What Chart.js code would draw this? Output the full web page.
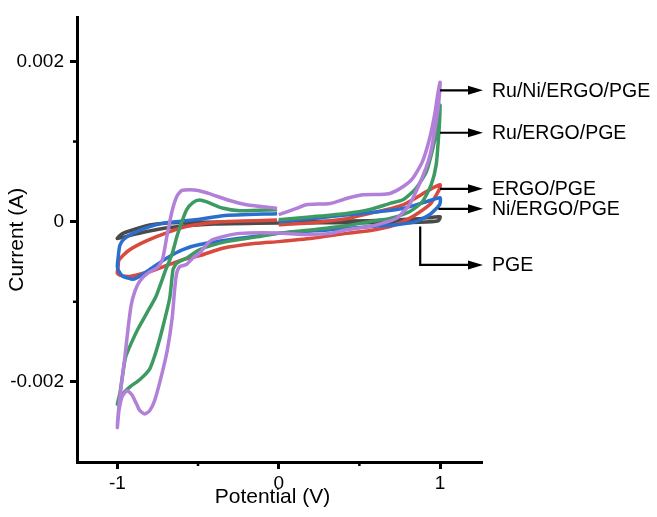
<!DOCTYPE html>
<html><head><meta charset="utf-8">
<script src="https://cdn.jsdelivr.net/npm/chart.js@4.4.1/dist/chart.umd.min.js"></script>
<style>html,body{margin:0;padding:0;background:#fff;}canvas{display:block;}</style>
</head><body>
<canvas id="c" width="657" height="517"></canvas>
<script>
// ---- Data (potential in V, current in A), scan 0 -> 1 -> -1 -> 0 ----
const seriesNames = ['Ru/Ni/ERGO/PGE','Ru/ERGO/PGE','Ni/ERGO/PGE','ERGO/PGE','PGE'];

const ruNiV = [0.00,0.11,0.17,0.32,0.42,0.52,0.625,0.69,0.77,0.83,0.89,0.935,0.966,0.985,1.0,
  0.99,0.976,0.96,0.94,0.915,0.87,0.81,0.73,0.64,0.56,0.42,0.32,0.15,0.00,
  -0.24,-0.386,-0.43,-0.49,-0.533,-0.572,-0.613,-0.633,-0.645,-0.66,-0.69,-0.73,-0.77,-0.80,-0.83,-0.86,-0.88,-0.91,-0.94,-0.97,-0.99,-1.0,
  -0.99,-0.974,-0.954,-0.935,-0.915,-0.89,-0.86,-0.81,-0.75,-0.72,-0.69,-0.66,-0.63,-0.60,-0.55,-0.50,-0.43,-0.32,-0.20,-0.01];
const ruNiA = [0.087e-3,0.165e-3,0.211e-3,0.228e-3,0.290e-3,0.336e-3,0.340e-3,0.352e-3,0.435e-3,0.539e-3,0.746e-3,1.036e-3,1.331e-3,1.580e-3,1.741e-3,
  1.45e-3,1.25e-3,1.05e-3,0.85e-3,0.68e-3,0.46e-3,0.211e-3,0.041e-3,-0.021e-3,-0.062e-3,-0.100e-3,-0.146e-3,-0.16e-3,-0.14e-3,
  -0.146e-3,-0.208e-3,-0.25e-3,-0.39e-3,-0.456e-3,-0.535e-3,-0.56e-3,-0.65e-3,-0.85e-3,-1.2e-3,-1.6e-3,-1.95e-3,-2.24e-3,-2.36e-3,-2.40e-3,-2.36e-3,-2.28e-3,-2.16e-3,-2.11e-3,-2.18e-3,-2.36e-3,-2.57e-3,
  -2.30e-3,-2.02e-3,-1.70e-3,-1.36e-3,-1.05e-3,-0.86e-3,-0.74e-3,-0.64e-3,-0.57e-3,-0.47e-3,-0.15e-3,0.14e-3,0.32e-3,0.39e-3,0.40e-3,0.39e-3,0.35e-3,0.274e-3,0.211e-3,0.165e-3];

const ruV = [0.00,0.21,0.42,0.56,0.69,0.77,0.85,0.915,0.955,0.985,1.0,
  0.997,0.99,0.976,0.945,0.89,0.81,0.69,0.56,0.42,0.21,0.00,
  -0.14,-0.324,-0.489,-0.572,-0.633,-0.655,-0.675,-0.72,-0.76,-0.80,-0.86,-0.92,-0.97,-1.0,
  -0.985,-0.95,-0.91,-0.87,-0.82,-0.76,-0.70,-0.66,-0.63,-0.60,-0.57,-0.53,-0.49,-0.45,-0.35,-0.24,-0.01];
const ruA = [0.025e-3,0.062e-3,0.103e-3,0.15e-3,0.228e-3,0.274e-3,0.414e-3,0.622e-3,0.912e-3,1.206e-3,1.455e-3,
  1.25e-3,1.036e-3,0.709e-3,0.46e-3,0.249e-3,0.124e-3,0.041e-3,0.0,-0.05e-3,-0.10e-3,-0.146e-3,
  -0.19e-3,-0.249e-3,-0.348e-3,-0.456e-3,-0.52e-3,-0.6e-3,-0.95e-3,-1.33e-3,-1.62e-3,-1.84e-3,-1.97e-3,-2.06e-3,-2.16e-3,-2.28e-3,
  -2.15e-3,-1.70e-3,-1.50e-3,-1.33e-3,-1.15e-3,-0.93e-3,-0.60e-3,-0.40e-3,-0.18e-3,0.0,0.15e-3,0.24e-3,0.27e-3,0.25e-3,0.17e-3,0.137e-3,0.15e-3];

const niV = [0.00,0.21,0.56,0.77,0.915,1.0,
  0.997,0.935,0.85,0.73,0.56,0.32,0.00,
  -0.241,-0.489,-0.594,-0.695,-0.799,-0.87,-0.904,-0.94,-0.966,-0.99,-1.0,
  -0.995,-0.985,-0.96,-0.904,-0.799,-0.695,-0.489,-0.347,-0.01];
const niA = [0.0,0.041e-3,0.112e-3,0.165e-3,0.249e-3,0.299e-3,
  0.211e-3,0.087e-3,0.0,-0.037e-3,-0.062e-3,-0.10e-3,-0.146e-3,
  -0.208e-3,-0.286e-3,-0.348e-3,-0.456e-3,-0.597e-3,-0.69e-3,-0.72e-3,-0.70e-3,-0.684e-3,-0.62e-3,-0.56e-3,
  -0.45e-3,-0.30e-3,-0.22e-3,-0.146e-3,-0.062e-3,-0.012e-3,0.029e-3,0.075e-3,0.10e-3];

const ergoV = [0.00,0.21,0.42,0.56,0.77,0.935,1.0,
  0.995,0.935,0.81,0.69,0.56,0.42,0.21,0.00,
  -0.14,-0.347,-0.489,-0.594,-0.695,-0.799,-0.923,-0.98,-1.0,
  -0.995,-0.99,-0.93,-0.82,-0.67,-0.55,-0.35,-0.01];
const ergoA = [-0.037e-3,-0.012e-3,0.037e-3,0.10e-3,0.211e-3,0.398e-3,0.46e-3,
  0.40e-3,0.211e-3,0.041e-3,-0.062e-3,-0.112e-3,-0.146e-3,-0.208e-3,-0.249e-3,
  -0.27e-3,-0.332e-3,-0.423e-3,-0.473e-3,-0.547e-3,-0.622e-3,-0.684e-3,-0.67e-3,-0.643e-3,
  -0.56e-3,-0.48e-3,-0.36e-3,-0.24e-3,-0.12e-3,-0.05e-3,0.0,0.02e-3];

const pgeV = [0.00,0.30,0.56,0.87,1.0,
  0.99,0.87,0.56,0.00,
  -0.40,-0.70,-0.90,-1.0,
  -0.97,-0.90,-0.80,-0.60,-0.01];
const pgeA = [0.0,0.006e-3,0.012e-3,0.037e-3,0.062e-3,
  0.012e-3,-0.006e-3,-0.012e-3,-0.015e-3,
  -0.03e-3,-0.08e-3,-0.16e-3,-0.21e-3,
  -0.15e-3,-0.10e-3,-0.04e-3,-0.01e-3,0.0];

const xTickValues = [-1, 0, 1];
const xTickLabels = ['-1', '0', '1'];
const yTickValues = [-0.002, 0, 0.002];
const yTickLabels = ['-0.002', '0', '0.002'];
const xMinorTicks = [-0.5, 0.5];
const yMinorTicks = [-0.001, 0.001];
const xTitle = 'Potential (V)';

// annotation callouts (anchor on curve, arrow level)
const calloutAnchorV = [1.0, 1.0, 1.0, 0.99, 0.877];
const calloutAnchorA = [0.00164, 0.00111, 0.00041, 0.00016, -0.00006];
const calloutArrowA  = [0.00164, 0.00111, 0.00041, 0.00016, -0.00054];
const calloutText    = ['Ru/Ni/ERGO/PGE','Ru/ERGO/PGE','ERGO/PGE','Ni/ERGO/PGE','PGE'];

const colors = ['#b27fd9','#3d9a62','#2a6fd0','#d84a3e','#4a4a4a'];
const FONT = '"Liberation Sans", Arial, Helvetica, sans-serif';

function pts(vs, as){ return vs.map((v,i)=>({x:v, y:as[i]})); }
const allV = [ruNiV, ruV, niV, ergoV, pgeV];
const allA = [ruNiA, ruA, niA, ergoA, pgeA];

const extras = {
  id:'extras',
  afterDraw(chart){
    const {ctx, scales:{x,y}, chartArea} = chart;
    ctx.save();
    ctx.strokeStyle='#000'; ctx.lineWidth=2.5;
    yMinorTicks.forEach(v=>{ const p=y.getPixelForValue(v); ctx.beginPath(); ctx.moveTo(chartArea.left-4,p); ctx.lineTo(chartArea.left,p); ctx.stroke(); });
    xMinorTicks.forEach(v=>{ const p=x.getPixelForValue(v); ctx.beginPath(); ctx.moveTo(p,chartArea.bottom); ctx.lineTo(p,chartArea.bottom+4); ctx.stroke(); });
    // x axis title
    ctx.fillStyle='#000';
    ctx.font = '21px ' + FONT;
    ctx.textAlign='center'; ctx.textBaseline='middle';
    ctx.fillText(xTitle, (chartArea.left+chartArea.right)/2 - 7, chartArea.bottom + 35);
    ctx.restore();
  }
};

const callouts = {
  id:'callouts',
  afterDatasetsDraw(chart){
    const {ctx, scales:{x,y}, chartArea} = chart;
    ctx.save();
    ctx.strokeStyle='#000'; ctx.fillStyle='#000'; ctx.lineWidth=2.2;
    ctx.font = '19.5px ' + FONT;
    ctx.textBaseline='middle'; ctx.textAlign='left';
    calloutText.forEach((t,i)=>{
      const x0 = x.getPixelForValue(calloutAnchorV[i]);
      const y0 = y.getPixelForValue(calloutAnchorA[i]);
      const y1 = y.getPixelForValue(calloutArrowA[i]);
      const tip = chartArea.right + 1;
      ctx.beginPath(); ctx.moveTo(x0,y0); ctx.lineTo(x0,y1); ctx.lineTo(tip-10,y1); ctx.stroke();
      ctx.beginPath(); ctx.moveTo(tip,y1); ctx.lineTo(tip-15,y1-4.5); ctx.lineTo(tip-15,y1+4.5); ctx.closePath(); ctx.fill();
      ctx.fillText(t, chartArea.right + 10, y1 + 1);
    });
    ctx.restore();
  }
};

new Chart(document.getElementById('c'), {
  type:'scatter',
  data:{
    datasets: seriesNames.map((n,i)=>({
      label:n, data:pts(allV[i], allA[i]), showLine:true,
      borderColor:colors[i], backgroundColor:colors[i], borderWidth:3.5,
      pointRadius:0, tension:0.2, fill:false
    }))
  },
  options:{
    responsive:false, animation:false, devicePixelRatio:1,
    layout:{padding:{top:16, right:175, left:0, bottom:0}},
    plugins:{legend:{display:false}, tooltip:{enabled:false}},
    scales:{
      x:{
        type:'linear', min:-1.25, max:1.26,
        afterFit(s){ s.height = 55; },
        afterBuildTicks(s){ s.ticks = xTickValues.map(v=>({value:v})); },
        grid:{drawOnChartArea:false, drawTicks:true, tickLength:7, tickWidth:3, tickColor:'#000'},
        border:{display:true, color:'#000', width:3},
        ticks:{callback:(v,i)=>xTickLabels[i], color:'#000', font:{family:FONT, size:19}, padding:3, maxRotation:0, autoSkip:false},
        title:{display:false}
      },
      y:{
        type:'linear', min:-0.003, max:0.00255,
        afterFit(s){ s.width = 77; },
        afterBuildTicks(s){ s.ticks = yTickValues.map(v=>({value:v})); },
        grid:{drawOnChartArea:false, drawTicks:true, tickLength:7, tickWidth:3, tickColor:'#000'},
        border:{display:true, color:'#000', width:3},
        ticks:{callback:(v,i)=>yTickLabels[i], color:'#000', font:{family:FONT, size:19}, padding:6, autoSkip:false},
        title:{display:true, text:'Current (A)', color:'#000', font:{family:FONT, size:21}, padding:{top:5, bottom:0}}
      }
    }
  },
  plugins:[extras, callouts]
});
</script>
</body></html>
